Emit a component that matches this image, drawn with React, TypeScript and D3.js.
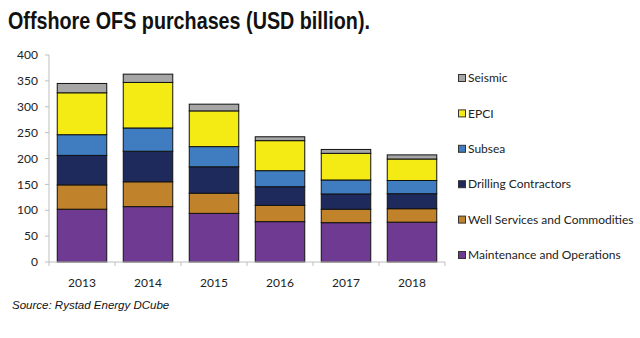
import React from "react";
import * as d3 from "d3";

const years = ["2013", "2014", "2015", "2016", "2017", "2018"];
const seriesNames = [
  "Maintenance and Operations",
  "Well Services and Commodities",
  "Drilling Contractors",
  "Subsea",
  "EPCI",
  "Seismic",
];
const maintenance = [102, 107, 94, 78, 76, 77];
const wellServices = [47, 48, 39, 31.5, 26, 26];
const drilling = [57, 59, 51, 36, 29.5, 29];
const subsea = [40, 45, 39, 31, 27, 25.5];
const epci = [81, 88, 69, 58, 51.5, 41.5];
const seismic = [18, 16, 13, 7.5, 7.5, 8];
const colors = ["#6f3a92", "#c0822a", "#1f2a5c", "#3f7dc0", "#f5eb14", "#a6a6a6"];
const yTicks = [0, 50, 100, 150, 200, 250, 300, 350, 400];

const seriesValues = [maintenance, wellServices, drilling, subsea, epci, seismic];

export default function App() {
  const W = 640, H = 338;
  const x = d3.scaleBand().domain(years).range([49, 445]).paddingInner(0.25).paddingOuter(0.125);
  const y = d3.scaleLinear().domain([0, 400]).range([262, 55]);
  const rows = years.map((yr, i) => {
    const r: any = { year: yr };
    seriesNames.forEach((n, k) => (r[n] = seriesValues[k][i]));
    return r;
  });
  const stacked = d3.stack().keys(seriesNames)(rows);
  const tickFont = "Lato, 'Open Sans', sans-serif";
  const boundaries = d3.range(years.length + 1).map((i) => 49 + (i * (445 - 49)) / years.length);
  const legendOrder = [...seriesNames].map((n, k) => ({ n, k })).reverse();

  return (
    <svg width={W} height={H} style={{ position: "absolute", left: 0, top: 0, background: "#fff" }}>
      <text x={8} y={29} textLength={362} lengthAdjust="spacingAndGlyphs" fontFamily="'Liberation Sans', Arial, sans-serif" fontWeight="bold" fontSize={24} fill="#111">
        Offshore OFS purchases (USD billion).
      </text>
      {/* y axis */}
      <line x1={49} x2={49} y1={55} y2={262} stroke="#bfbfbf" />
      {yTicks.map((t) => (
        <g key={t}>
          <line x1={45} x2={49} y1={y(t)} y2={y(t)} stroke="#bfbfbf" />
          <text x={38} y={y(t)} dy="0.35em" textAnchor="end" fontFamily={tickFont} fontSize={12} fill="#222">
            {t}
          </text>
        </g>
      ))}
      {/* bars */}
      {stacked.map((s, k) =>
        s.map((d, i) => (
          <rect
            key={k + "-" + i}
            x={x(years[i])}
            y={y(d[1])}
            width={x.bandwidth()}
            height={y(d[0]) - y(d[1])}
            fill={colors[k]}
            stroke="#111"
            strokeWidth={1}
          />
        ))
      )}
      {/* x axis */}
      <line x1={49} x2={445} y1={262} y2={262} stroke="#bfbfbf" />
      {boundaries.map((b, i) => (
        <line key={i} x1={b} x2={b} y1={262} y2={266} stroke="#bfbfbf" />
      ))}
      {years.map((yr) => (
        <text key={yr} x={(x(yr) as number) + x.bandwidth() / 2} y={283} dy="0.35em" textAnchor="middle" fontFamily={tickFont} fontSize={12} fill="#222">
          {yr}
        </text>
      ))}
      {/* legend */}
      {legendOrder.map(({ n, k }, i) => {
        const ly = 78 + i * 35.4;
        return (
          <g key={n}>
            <rect x={458.5} y={ly - 3.5} width={7} height={7} fill={colors[k]} stroke="#333" strokeWidth={1} />
            <text x={468} y={ly} dy="0.35em" fontFamily={tickFont} fontSize={12} fill="#222">
              {n}
            </text>
          </g>
        );
      })}
      <text x={12} y={309} fontFamily="'Liberation Sans', Arial, sans-serif" fontStyle="italic" fontSize={11.5} fill="#111">
        Source: Rystad Energy DCube
      </text>
    </svg>
  );
}
